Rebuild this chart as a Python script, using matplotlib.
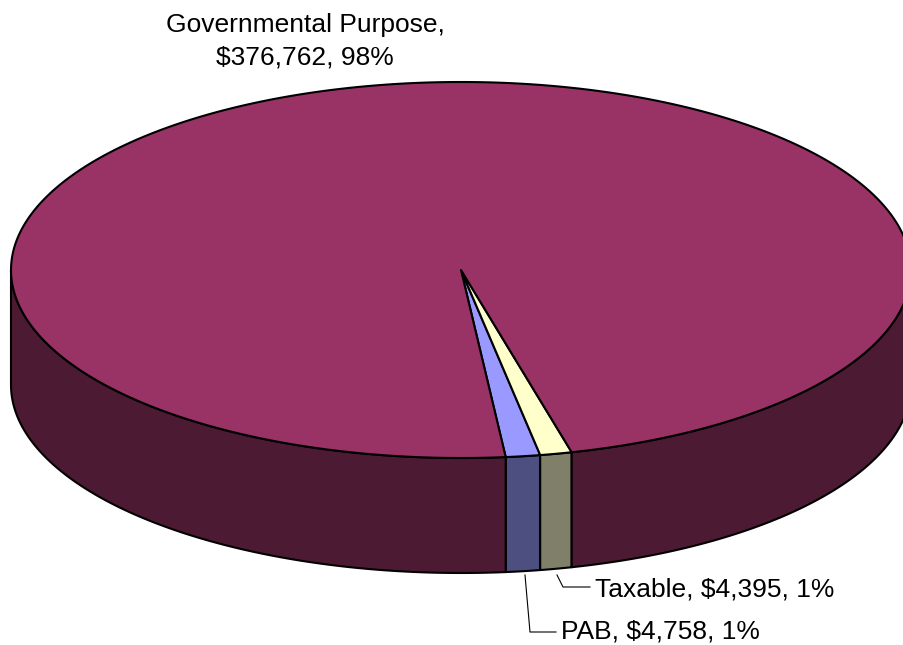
import numpy as np
import matplotlib
matplotlib.use("Agg")
from matplotlib import pyplot as plt
from matplotlib.patches import Polygon

plt.rcParams["font.family"] = ["Liberation Sans", "DejaVu Sans"]

labels = ["PAB", "Taxable", "Governmental Purpose"]
values = [4758, 4395, 376762]
percents = ["1%", "1%", "98%"]
top_colors = ["#9999ff", "#ffffcc", "#993366"]
side_colors = ["#4d4f80", "#80806a", "#4d1a33"]

# ellipse geometry in pixels
cx, cy = 461, 270
rx, ry = 450, 188
depth = 115
start = -84.3  # parametric angle where the first slice begins

fig = plt.figure(figsize=(9.04, 6.45), dpi=100)
ax = fig.add_axes([0, 0, 1, 1])
ax.set_xlim(0, 904)
ax.set_ylim(645, 0)
ax.axis("off")

fracs = np.array(values) / sum(values)
bounds = start + 360 * np.concatenate([[0], np.cumsum(fracs)])


def pt(t, dy=0):
    r = np.radians(t)
    return cx + rx * np.cos(r), cy - ry * np.sin(r) + dy


# side walls (front half only)
for i in range(len(values)):
    a0, a1 = bounds[i], bounds[i + 1]
    for k in (-1, 0, 1):
        lo, hi = max(a0, -180 + 360 * k), min(a1, 360 * k)
        if hi <= lo:
            continue
        t = np.linspace(lo, hi, 200)
        xs, ys = pt(t)
        xb, yb = pt(t[::-1], depth)
        poly = np.column_stack([np.r_[xs, xb], np.r_[ys, yb]])
        ax.add_patch(Polygon(poly, closed=True, fc=side_colors[i], ec="black",
                             lw=1.5, joinstyle="round"))

# top face
for i in range(len(values)):
    t = np.linspace(bounds[i], bounds[i + 1], 400)
    xs, ys = pt(t)
    poly = np.column_stack([np.r_[cx, xs], np.r_[cy, ys]])
    ax.add_patch(Polygon(poly, closed=True, fc=top_colors[i], ec="black",
                         lw=1.5, joinstyle="round"))

# labels
fs = 19
ax.text(305, 32, f"{labels[2]},", ha="center", va="baseline", fontsize=fs)
ax.text(305, 65, f"${values[2]:,}, {percents[2]}", ha="center", va="baseline", fontsize=fs)

ax.plot([557, 563, 590], [575, 587, 587], color="black", lw=0.8)
ax.text(595, 597, f"{labels[1]}, ${values[1]:,}, {percents[1]}", ha="left", va="baseline",
        fontsize=fs)

ax.plot([525, 530, 556], [575, 632, 632], color="black", lw=0.8)
ax.text(561, 639, f"{labels[0]}, ${values[0]:,}, {percents[0]}", ha="left", va="baseline",
        fontsize=fs)

fig.savefig("out.png", dpi=100)
